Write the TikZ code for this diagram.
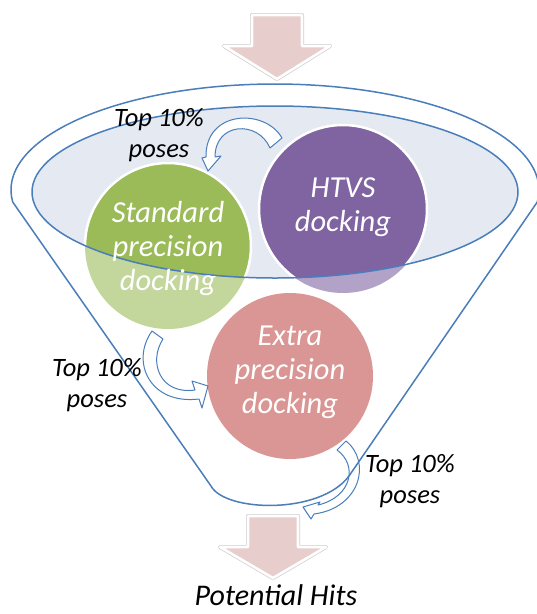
\documentclass[tikz,border=0pt]{standalone}
\usepackage{fontspec}
\setmainfont{Carlito}
\definecolor{fblue}{HTML}{4A7EBB}
\definecolor{ellfill}{HTML}{E4E9F2}
\definecolor{cgreen}{HTML}{9BBB59}
\definecolor{cpurple}{HTML}{8064A2}
\definecolor{cred}{HTML}{D99694}
\definecolor{pinkfill}{HTML}{E8CDCD}
\tikzset{
  funnelline/.style={draw=fblue, line width=1.5pt, line join=round},
  curvarrow/.style={draw=fblue, fill=white, line width=1pt, line join=round},
  bigarrow/.style={preaction={draw=black!20, line width=4pt, line join=round},
                   draw=white, line width=2.6pt, fill=pinkfill, line join=round},
  circtext/.style={text=white, font=\fontsize{30.5}{34}\selectfont\itshape, align=center, inner sep=0pt},
  labeltext/.style={text=black, font=\fontsize{26.5}{31}\selectfont\itshape, align=center, inner sep=0pt},
}
\begin{document}
\begin{tikzpicture}[x=1pt,y=-1pt]
\useasboundingbox (0,0) rectangle (537,614);
\clip (0,0) rectangle (537,614);
% inner ellipse fill
\fill[ellfill] (275,192) ellipse [x radius=243, y radius=86];
% light (outside) parts of circles
\fill[cgreen!60!white] (168,246) circle [radius=83];
\fill[cpurple!60!white] (343,209) circle [radius=84];
\fill[cred] (290,376) circle [radius=83];
% full-colour parts inside the ellipse
\begin{scope}
  \clip (275,192) ellipse [x radius=243, y radius=86];
  \filldraw[fill=cgreen, draw=white, line width=2.5pt] (168,246) circle [radius=83];
  \filldraw[fill=cpurple, draw=white, line width=2.5pt] (343,209) circle [radius=84];
\end{scope}
% big arrows
\path[bigarrow] (252,15) -- (302,15) -- (302,46) -- (330,46) -- (277,79) -- (224,46) -- (252,46) -- cycle;
\path[bigarrow] (248,516) -- (298,516) -- (298,547) -- (326,547) -- (273,578) -- (220,547) -- (248,547) -- cycle;
% curved arrows
\draw[curvarrow] (282,138) .. controls (265,108) and (205,110) .. (206,157)
  -- (202,158) -- (208,171) -- (221,156) -- (215,157)
  .. controls (215,122) and (258,120) .. (270,148) -- cycle;
\draw[curvarrow] (152,331) .. controls (130,362) and (150,405) .. (199,399)
  -- (202,408) -- (208,386) -- (192,381) -- (195,390)
  .. controls (160,395) and (148,362) .. (163,339) -- cycle;
\draw[curvarrow] (346,441) .. controls (372,462) and (360,508) .. (314,514)
  -- (311,519) -- (303,507) -- (320,502) -- (318,505)
  .. controls (352,497) and (358,465) .. (337,450) -- cycle;
% funnel outline
\draw[funnelline] (12.7,202) arc[start angle=173.5, end angle=366.5, x radius=264, y radius=106]
  -- (349,476) .. controls (320,515) and (225,512) .. (211,486) -- cycle;
\draw[funnelline] (275,192) ellipse [x radius=243, y radius=86];
% texts
\node[circtext] (sp) at (168,249) {Standard\\precision\\docking};
\node[circtext] (htvs) at (343,207) {HTVS\\docking};
\node[circtext] (xp) at (290,372) {Extra\\precision\\docking};
\node[labeltext] (l1) at (159,135) {Top 10\%\\poses};
\node[labeltext] (l2) at (97,385) {Top 10\%\\poses};
\node[labeltext] (l3) at (410,481) {Top 10\%\\poses};
\node[anchor=base, font=\fontsize{30}{36}\selectfont\itshape, inner sep=0pt] (hits) at (276,605) {Potential Hits};
\end{tikzpicture}
\end{document}
